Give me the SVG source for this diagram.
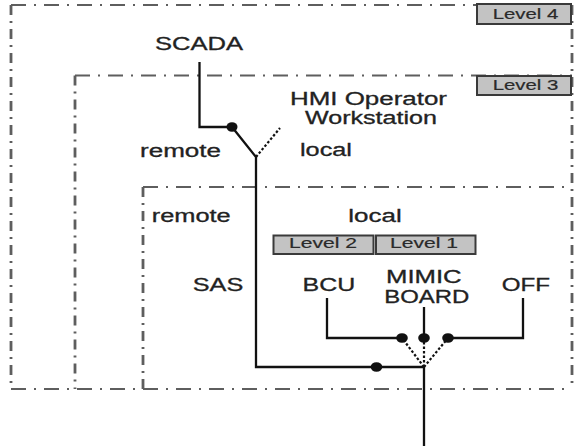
<svg xmlns="http://www.w3.org/2000/svg" width="574" height="446" viewBox="0 0 574 446">
<style>
.t{font-family:"Liberation Sans",Arial,sans-serif;font-size:18px;fill:#222;stroke:#222;stroke-width:0.3}
.lv{font-family:"Liberation Sans",Arial,sans-serif;font-size:14px;fill:#2a2a2a;stroke:#2a2a2a;stroke-width:0.2}
.lb{fill:#c3c3c3;stroke:#3a3a3a;stroke-width:2}
.dh{stroke:#5e5e5e;stroke-width:2.2;fill:none;stroke-dasharray:15 8 2 8}
.dv{stroke:#5e5e5e;stroke-width:2.8;fill:none;stroke-dasharray:10 6 2 6}
.w{stroke:#111;stroke-width:2.3;fill:none}
.dot{stroke:#111;stroke-width:2.2;fill:none;stroke-dasharray:2.5 2}
.j{fill:#111}
</style>
<rect width="574" height="446" fill="#fff"/>
<g id="level4">
<line class="dh" x1="11" y1="5" x2="572" y2="5"/>
<line class="dv" x1="11" y1="5" x2="11" y2="389"/>
<line class="dv" x1="572" y1="5" x2="572" y2="389"/>
<line class="dh" x1="11" y1="389" x2="572" y2="389"/>
<rect class="lb" x="477" y="4" width="94" height="20"/>
<text class="lv" x="492.7" y="19" textLength="65.6" lengthAdjust="spacingAndGlyphs">Level 4</text>
</g>
<g id="level3">
<line class="dh" x1="75" y1="75.5" x2="572" y2="75.5"/>
<line class="dv" x1="75" y1="75.5" x2="75" y2="389"/>
<rect class="lb" x="477" y="76" width="94" height="19"/>
<text class="lv" x="492.7" y="90" textLength="65.6" lengthAdjust="spacingAndGlyphs">Level 3</text>
</g>
<g id="level2box">
<line class="dh" x1="143" y1="187" x2="572" y2="187"/>
<line class="dv" x1="143" y1="187" x2="143" y2="389"/>
</g>
<g id="scada">
<text class="t" x="155" y="50" textLength="88" lengthAdjust="spacingAndGlyphs">SCADA</text>
</g>
<g id="hmi">
<text class="t" x="290" y="105" textLength="157" lengthAdjust="spacingAndGlyphs">HMI Operator</text>
<text class="t" x="305" y="124.3" textLength="132" lengthAdjust="spacingAndGlyphs">Workstation</text>
<text class="t" x="140" y="156.5" textLength="81" lengthAdjust="spacingAndGlyphs">remote</text>
<text class="t" x="300" y="155.5" textLength="52" lengthAdjust="spacingAndGlyphs">local</text>
</g>
<g id="bay">
<text class="t" x="151.7" y="222.3" textLength="79" lengthAdjust="spacingAndGlyphs">remote</text>
<text class="t" x="348.3" y="222.3" textLength="53.4" lengthAdjust="spacingAndGlyphs">local</text>
<rect class="lb" x="273.5" y="235.5" width="100" height="18.5"/>
<text class="lv" x="289" y="248" textLength="68" lengthAdjust="spacingAndGlyphs">Level 2</text>
<rect class="lb" x="376" y="235.5" width="99.5" height="18.5"/>
<text class="lv" x="390" y="248" textLength="68" lengthAdjust="spacingAndGlyphs">Level 1</text>
</g>
<g id="sas"><text class="t" x="192.7" y="290.7" textLength="50.6" lengthAdjust="spacingAndGlyphs">SAS</text></g>
<g id="bcu"><text class="t" x="302.6" y="291" textLength="52.7" lengthAdjust="spacingAndGlyphs">BCU</text></g>
<g id="mimic">
<text class="t" x="386" y="282.5" textLength="75.7" lengthAdjust="spacingAndGlyphs">MIMIC</text>
<text class="t" x="384.3" y="303.3" textLength="85" lengthAdjust="spacingAndGlyphs">BOARD</text>
</g>
<g id="off"><text class="t" x="501.7" y="290.7" textLength="48.3" lengthAdjust="spacingAndGlyphs">OFF</text></g>
<g id="connectors">
<path class="w" d="M199.5 62 V127 H232 L256 157 V367 H424 V446"/>
<path class="dot" d="M256 157 L280 128"/>
<path class="w" d="M327 298 V338 H402"/>
<path class="w" d="M424 307 V338"/>
<path class="w" d="M523 298 V338 H448"/>
<path class="dot" d="M424 367 L402 338 M424 367 L424 338 M424 367 L448 338"/>
<ellipse class="j" cx="232" cy="127" rx="5.5" ry="4.8"/>
<ellipse class="j" cx="376.5" cy="367" rx="5.8" ry="4.8"/>
<ellipse class="j" cx="402" cy="338" rx="5.8" ry="4.8"/>
<ellipse class="j" cx="424" cy="338" rx="5.8" ry="4.8"/>
<ellipse class="j" cx="448" cy="338" rx="5.8" ry="4.8"/>
</g>
</svg>
